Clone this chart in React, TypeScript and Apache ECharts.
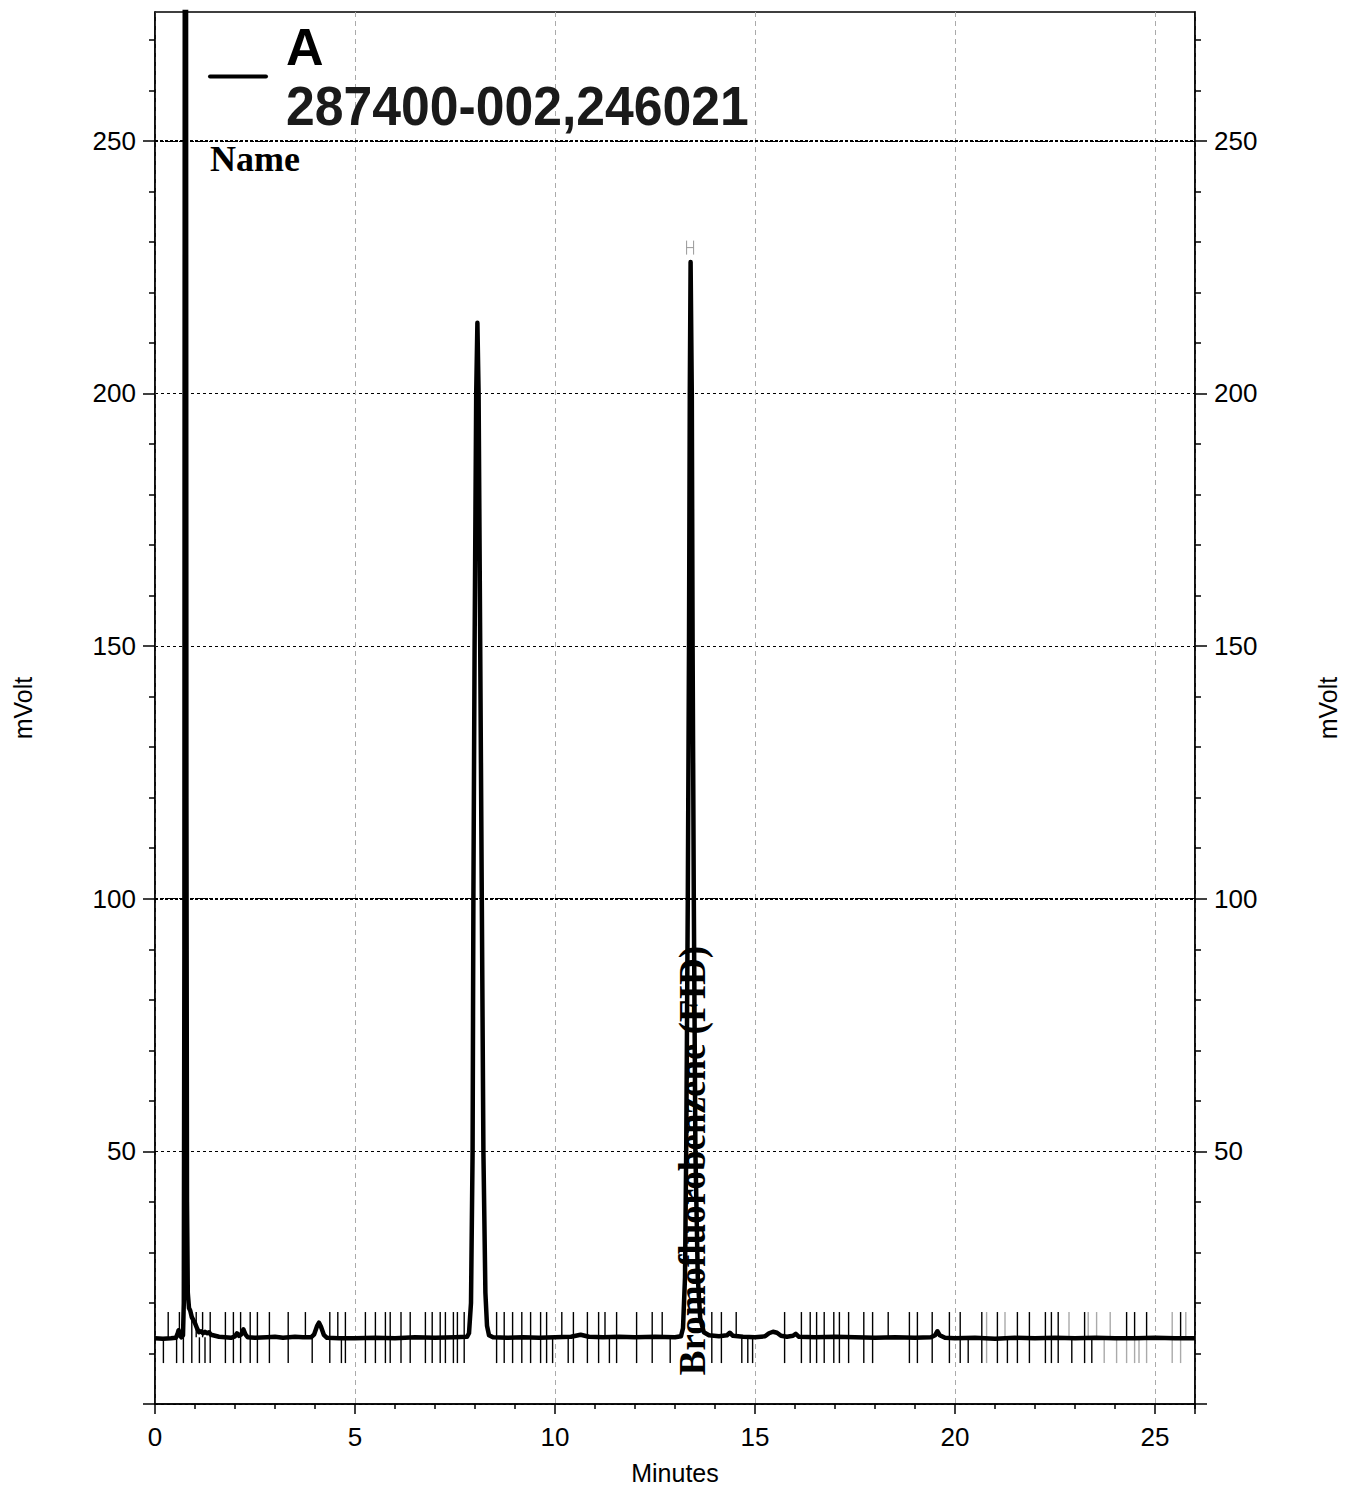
import React, { useEffect, useRef } from "react";
import * as echarts from "echarts";

// ---- Data ----
const xTickLabels = [0, 5, 10, 15, 20, 25];
const xMinorTicks = [1, 2, 3, 4, 6, 7, 8, 9, 11, 12, 13, 14, 16, 17, 18, 19, 21, 22, 23, 24, 26];
const yTickLabels = [50, 100, 150, 200, 250];
const yMajorTicks = [0, 50, 100, 150, 200, 250];
const yMinorTicks = [10, 20, 30, 40, 60, 70, 80, 90, 110, 120, 130, 140, 160, 170, 180, 190, 210, 220, 230, 240, 260, 270];
const boldGridValues = [250, 100];

// signal trace: [minutes, mVolt]
const signal: [number, number][] = [
  [0.0, 13.0], [0.2, 12.9], [0.4, 13.0], [0.52, 13.1], [0.56, 13.8], [0.59, 14.6], [0.62, 13.6], [0.66, 13.2],
  [0.7, 13.6], [0.72, 20], [0.735, 90], [0.745, 300], [0.76, 600], [0.775, 300], [0.785, 120], [0.8, 40],
  [0.82, 22], [0.85, 19.0], [0.88, 18.5], [0.92, 17.2], [0.96, 16.6], [1.0, 16.0], [1.05, 15.0], [1.1, 14.2],
  [1.15, 14.4], [1.2, 14.0], [1.25, 14.3], [1.3, 14.0], [1.35, 14.2], [1.4, 13.7], [1.5, 13.5], [1.6, 13.3],
  [1.75, 13.2], [1.9, 13.1], [2.0, 13.4], [2.05, 14.0], [2.1, 13.5], [2.16, 13.8], [2.21, 14.8], [2.26, 13.8],
  [2.32, 13.2], [2.5, 13.1], [2.8, 13.2], [3.0, 13.3], [3.2, 13.1], [3.5, 13.3], [3.7, 13.2], [3.9, 13.2],
  [3.98, 13.8], [4.05, 15.4], [4.1, 16.1], [4.15, 15.3], [4.22, 13.7], [4.3, 13.1], [4.6, 13.0], [5.0, 13.0],
  [5.5, 13.1], [6.0, 13.0], [6.5, 13.2], [7.0, 13.1], [7.5, 13.2], [7.8, 13.3], [7.85, 14.0], [7.9, 20],
  [7.94, 50], [7.96, 100], [7.99, 150], [8.03, 200], [8.06, 214], [8.09, 200], [8.13, 150], [8.17, 100],
  [8.21, 50], [8.26, 22], [8.3, 15.5], [8.35, 13.6], [8.45, 13.2], [8.8, 13.1], [9.2, 13.2], [9.6, 13.1],
  [10.0, 13.2], [10.4, 13.3], [10.64, 13.7], [10.85, 13.3], [11.2, 13.2], [11.6, 13.3], [12.0, 13.2],
  [12.5, 13.3], [13.0, 13.2], [13.15, 13.4], [13.2, 15], [13.25, 25], [13.28, 50], [13.32, 100], [13.35, 150],
  [13.37, 200], [13.39, 226], [13.42, 200], [13.44, 150], [13.47, 100], [13.51, 50], [13.57, 25], [13.63, 17],
  [13.72, 14.2], [13.85, 13.6], [14.1, 13.4], [14.3, 13.6], [14.37, 14.1], [14.45, 13.5], [14.7, 13.3],
  [15.0, 13.2], [15.25, 13.4], [15.35, 14.0], [15.45, 14.3], [15.55, 14.1], [15.65, 13.5], [15.8, 13.3],
  [15.95, 13.5], [16.02, 13.9], [16.1, 13.3], [16.5, 13.2], [17.0, 13.3], [17.5, 13.2], [18.0, 13.1],
  [18.5, 13.2], [19.0, 13.1], [19.4, 13.2], [19.5, 13.6], [19.56, 14.4], [19.62, 13.6], [19.75, 13.1],
  [20.0, 13.0], [20.5, 13.1], [21.0, 12.9], [21.5, 13.1], [22.0, 13.0], [22.5, 13.1], [23.0, 13.0],
  [23.5, 13.1], [24.0, 13.0], [24.5, 13.0], [25.0, 13.1], [25.5, 13.0], [26.0, 13.0],
];

// integration event marks (minutes)
const fullMarks = [0.92, 1.38, 1.76, 1.96, 2.14, 2.38, 2.56, 2.86, 3.33, 4.37, 4.76, 5.26, 5.51, 5.76, 5.88, 6.15, 6.38, 6.76, 6.93, 7.13, 7.26, 7.46, 7.56, 7.73, 8.54, 8.73, 8.94, 9.17, 9.39, 9.64, 9.79, 10.46, 10.81, 11.09, 11.54, 12.04, 12.43, 13.92, 14.16, 15.74, 16.16, 16.38, 16.54, 16.73, 16.97, 17.11, 17.34, 17.72, 17.94, 18.86, 19.06, 19.43, 19.86, 20.13, 20.67, 21.06, 21.56, 21.86, 22.26, 22.41, 22.58, 23.24];
const upMarks = [0.33, 0.61, 1.03, 1.19, 3.76, 4.57, 10.17, 11.25, 12.68, 14.53, 18.33, 24.29, 24.49, 24.79, 25.64];
const downMarks = [0.21, 0.54, 0.71, 1.11, 1.25, 3.93, 4.66, 9.94, 10.33, 11.36, 12.88, 14.67, 14.82, 14.94, 20.33, 21.31, 22.92, 23.42];
const greyUpMarks = [20.79, 21.25, 22.85, 23.33, 23.54, 23.88, 25.43, 25.77];
const greyDownMarks = [20.79, 23.73, 24.04, 24.29, 24.49, 24.6, 24.79, 25.43, 25.64];

const peakTimes = [13.39];
const peakApex = [225.9];
const peakNames = ["Bromofluorobenzene (FID)"];

const traceName = "A";
const sampleId = "287400-002,246021";
const nameHeader = "Name";

// ---- layout constants ----
const MARK_TOP = 18.2;
const MARK_MID = 13.2;
const MARK_BOTTOM = 8.1;
const LABEL_BASE = 5.7;
const Y_MAX = 275.5;
const SANS = '"Liberation Sans", Arial, sans-serif';
const SERIF = '"Liberation Serif", "Times New Roman", serif';

function buildOption() {
  const markData: number[][] = [];
  fullMarks.forEach((t) => markData.push([t, MARK_MID, 0]));
  upMarks.forEach((t) => markData.push([t, MARK_MID, 1]));
  downMarks.forEach((t) => markData.push([t, MARK_MID, 2]));
  greyUpMarks.forEach((t) => markData.push([t, MARK_MID, 3]));
  greyDownMarks.forEach((t) => markData.push([t, MARK_MID, 4]));

  const labelStyle = { color: "#000", fontSize: 26, fontFamily: SANS };

  const yMajor = (position: string) => ({
    type: "value",
    position,
    min: 0,
    max: Y_MAX,
    interval: 50,
    axisLine: { show: true, lineStyle: { color: "#000", width: 1.5 } },
    axisTick: { show: true, length: 12, customValues: yMajorTicks, lineStyle: { color: "#000", width: 1.5 } },
    axisLabel: { ...labelStyle, margin: 19, customValues: yTickLabels },
    splitLine: { show: position === "left", lineStyle: { color: "#000", width: 1, type: [3, 3] } },
    name: "mVolt",
    nameLocation: "middle",
    nameRotate: 90,
    nameGap: 120,
    nameTextStyle: { color: "#000", fontSize: 25, fontFamily: SANS },
  });
  const yMinor = (position: string) => ({
    type: "value",
    position,
    min: 0,
    max: Y_MAX,
    interval: 10,
    axisLine: { show: false },
    axisTick: { show: true, length: 6, customValues: yMinorTicks, lineStyle: { color: "#000", width: 1.5 } },
    axisLabel: { show: false },
    splitLine: { show: false },
  });

  return {
    animation: false,
    backgroundColor: "#fff",
    grid: { left: 155, right: 160, top: 12, bottom: 89, show: true, borderColor: "#000", borderWidth: 1.5 },
    xAxis: [
      {
        type: "value",
        position: "bottom",
        min: 0,
        max: 26,
        interval: 5,
        axisLine: { show: true, lineStyle: { color: "#000", width: 1.5 } },
        axisTick: { show: true, length: 10, lineStyle: { color: "#000", width: 1.5 } },
        axisLabel: { ...labelStyle, margin: 20, customValues: xTickLabels },
        splitLine: { show: true, lineStyle: { color: "#aaa", width: 1, type: [5, 4] } },
        name: "Minutes",
        nameLocation: "middle",
        nameGap: 56,
        nameTextStyle: { color: "#000", fontSize: 25, fontFamily: SANS },
      },
      {
        type: "value",
        position: "bottom",
        min: 0,
        max: 26,
        interval: 1,
        axisLine: { show: false },
        axisTick: { show: true, length: 5, customValues: xMinorTicks, lineStyle: { color: "#000", width: 1.5 } },
        axisLabel: { show: false },
        splitLine: { show: false },
      },
    ],
    yAxis: [yMajor("left"), yMinor("left"), yMajor("right"), yMinor("right")],
    series: [
      {
        type: "custom",
        xAxisIndex: 0,
        yAxisIndex: 0,
        data: markData,
        encode: { x: 0, y: 1 },
        z: 2,
        silent: true,
        renderItem: (params: any, api: any) => {
          const t = api.value(0);
          const kind = api.value(2);
          const top = api.coord([t, MARK_TOP]);
          const mid = api.coord([t, MARK_MID]);
          const bot = api.coord([t, MARK_BOTTOM]);
          let y1 = top[1];
          let y2 = bot[1];
          if (kind === 1 || kind === 3) y2 = mid[1];
          if (kind === 2 || kind === 4) y1 = mid[1];
          const stroke = kind >= 3 ? "#aaa" : "#000";
          return {
            type: "line",
            shape: { x1: top[0], y1, x2: top[0], y2 },
            style: { stroke, lineWidth: 1.4 },
          };
        },
      },
      {
        type: "line",
        xAxisIndex: 0,
        yAxisIndex: 0,
        data: signal,
        showSymbol: false,
        symbol: "none",
        z: 3,
        silent: true,
        lineStyle: { color: "#000", width: 4.5, join: "round" },
        markLine: {
          silent: true,
          symbol: "none",
          label: { show: false },
          lineStyle: { color: "#000", width: 2, type: [3, 2] },
          data: boldGridValues.map((v) => ({ yAxis: v })),
        },
      },
      {
        type: "custom",
        xAxisIndex: 0,
        yAxisIndex: 0,
        data: peakTimes.map((t, i) => [t, peakApex[i]]),
        encode: { x: 0, y: 1 },
        z: 4,
        silent: true,
        renderItem: (params: any, api: any) => {
          const i = params.dataIndex;
          const base = api.coord([peakTimes[i], LABEL_BASE]);
          const apex = api.coord([peakTimes[i], peakApex[i]]);
          const hx = apex[0];
          const hTop = apex[1] - 22;
          const hBot = apex[1] - 8;
          const hMid = (hTop + hBot) / 2;
          return {
            type: "group",
            children: [
              {
                type: "text",
                x: base[0] + 2,
                y: base[1],
                rotation: Math.PI / 2,
                style: {
                  text: peakNames[i],
                  font: `bold 37px ${SERIF}`,
                  fill: "#000",
                  textAlign: "left",
                  textVerticalAlign: "middle",
                },
              },
              { type: "line", shape: { x1: hx - 4, y1: hTop, x2: hx - 4, y2: hBot }, style: { stroke: "#999", lineWidth: 1 } },
              { type: "line", shape: { x1: hx + 3, y1: hTop, x2: hx + 3, y2: hBot }, style: { stroke: "#999", lineWidth: 1 } },
              { type: "line", shape: { x1: hx - 4, y1: hMid, x2: hx + 3, y2: hMid }, style: { stroke: "#999", lineWidth: 1 } },
            ],
          };
        },
      },
    ],
    graphic: [
      { type: "rect", shape: { x: 208, y: 74.5, width: 60, height: 4, r: 2 }, style: { fill: "#000" }, z: 10 },
      {
        type: "text",
        x: 286,
        y: 47,
        style: { text: traceName, font: `bold 52px ${SANS}`, fill: "#000", textAlign: "left", textVerticalAlign: "middle" },
        z: 10,
      },
      {
        type: "text",
        x: 286,
        y: 106,
        scaleX: 0.94,
        style: { text: sampleId, font: `bold 55px ${SANS}`, fill: "#1a1a1a", textAlign: "left", textVerticalAlign: "middle" },
        z: 10,
      },
      {
        type: "text",
        x: 210,
        y: 159,
        style: { text: nameHeader, font: `bold 36px ${SERIF}`, fill: "#000", textAlign: "left", textVerticalAlign: "middle" },
        z: 10,
      },
    ],
  };
}

export default function App() {
  const ref = useRef<HTMLDivElement>(null);
  useEffect(() => {
    if (!ref.current) return;
    const chart = echarts.init(ref.current, null, { renderer: "svg" });
    chart.setOption(buildOption() as any);
    return () => chart.dispose();
  }, []);
  return <div ref={ref} style={{ position: "absolute", left: 0, top: 0, width: 1355, height: 1493 }} />;
}
